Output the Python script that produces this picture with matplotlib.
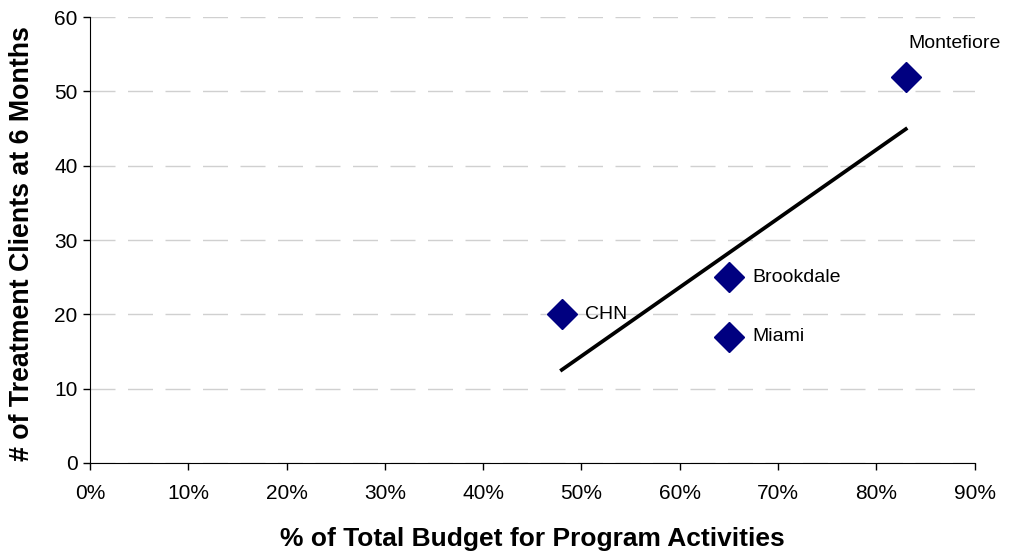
import numpy as np
import matplotlib.pyplot as plt
from matplotlib.ticker import PercentFormatter

plt.rcParams['font.family'] = ['Liberation Sans', 'DejaVu Sans']

# Budget share vs treatment clients at 6 months
sites = ['CHN', 'Brookdale', 'Miami', 'Montefiore']
budget_pct = [48, 65, 65, 83]
clients = [20, 25, 17, 52]

fig = plt.figure(figsize=(10.11, 5.55), dpi=100)
ax = fig.add_axes([0.089, 0.166, 0.875, 0.803])

# linear trend line over the data range
slope, icpt = np.polyfit(budget_pct, clients, 1)
xs = np.array([min(budget_pct), max(budget_pct)])
ax.plot(xs, slope * xs + icpt, color='black', lw=2.7, zorder=2)

ax.plot(budget_pct, clients, linestyle='none', marker='D', markersize=15,
        color='#000080', zorder=3)

offsets = {'CHN': (17, 0, 'left', 'center'),
           'Brookdale': (17, 0, 'left', 'center'),
           'Miami': (17, 0, 'left', 'center'),
           'Montefiore': (2, 18, 'left', 'bottom')}
for s, x, y in zip(sites, budget_pct, clients):
    dx, dy, ha, va = offsets[s]
    ax.annotate(s, (x, y), xytext=(dx, dy), textcoords='offset points',
                ha=ha, va=va, fontsize=14)

ax.set_xlim(0, 90)
ax.set_ylim(0, 60)
ax.set_xticks(range(0, 91, 10))
ax.set_yticks(range(0, 61, 10))
ax.xaxis.set_major_formatter(PercentFormatter(decimals=0))
ax.tick_params(labelsize=15, direction='out', length=5, width=1)
ax.tick_params(axis='x', pad=10)
ax.tick_params(axis='y', pad=4)

ax.grid(axis='y', color='#d0d0d0', linestyle=(0, (18, 9)), lw=1)
ax.set_axisbelow(True)
for side in ['top', 'right']:
    ax.spines[side].set_visible(False)

ax.set_xlabel('% of Total Budget for Program Activities', fontsize=19,
              fontweight='bold')
ax.set_ylabel('# of Treatment Clients at 6 Months', fontsize=19.3,
              fontweight='bold')
ax.xaxis.set_label_coords(0.5, -0.143)
ax.yaxis.set_label_coords(-0.062, 0.491)

fig.savefig('out.png', dpi=100)
